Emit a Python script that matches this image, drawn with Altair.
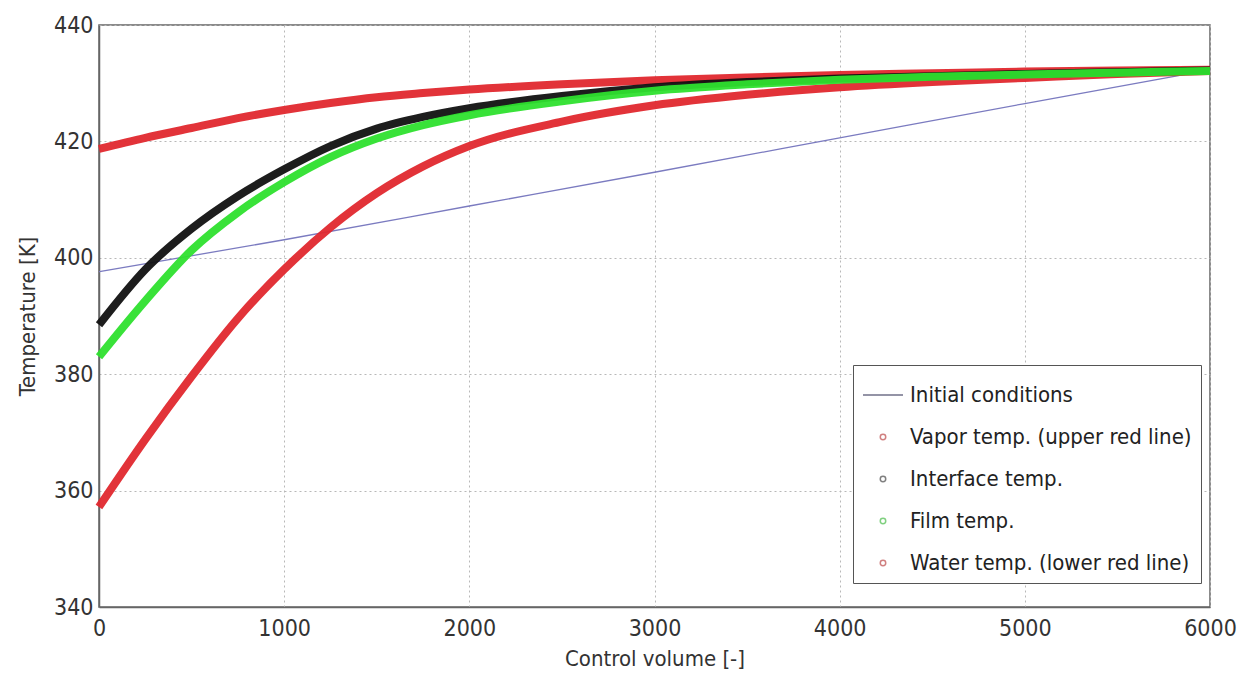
import altair as alt
import pandas as pd

# ---- data ----
cv = [0, 250, 500, 750, 1000, 1250, 1500, 1750, 2000, 2500, 3000, 3500, 4000, 4500, 5000, 5500, 6000]
vapor = [418.7, 420.6, 422.3, 424.0, 425.4, 426.6, 427.6, 428.3, 428.9, 429.8, 430.5, 431.0, 431.4, 431.7, 432.0, 432.2, 432.3]
interface = [388.5, 398.0, 405.0, 410.6, 415.2, 419.2, 422.2, 424.2, 425.7, 427.8, 429.3, 430.2, 430.8, 431.2, 431.6, 431.9, 432.2]
film = [383.0, 392.6, 401.3, 407.8, 413.0, 417.3, 420.5, 422.8, 424.5, 426.9, 428.7, 429.8, 430.6, 431.1, 431.5, 431.8, 432.1]
water = [357.2, 368.8, 379.6, 389.6, 398.0, 405.2, 411.1, 415.7, 419.2, 423.4, 426.2, 428.0, 429.3, 430.2, 430.9, 431.6, 432.1]

cv_init = [0, 1000, 2000, 3000, 4000, 5000, 6000]
initial = [397.6, 403.1, 408.9, 414.7, 420.6, 426.5, 432.3]

names = ["Initial conditions", "Vapor temp. (upper red line)", "Interface temp.",
         "Film temp.", "Water temp. (lower red line)"]
colors = ["#7b7bc0", "#e0282e", "#111111", "#2ee02e", "#e0282e"]
legend_colors = ["#707088", "#d08080", "#808080", "#80d080", "#d08080"]
shapes = ["stroke", "circle", "circle", "circle", "circle"]
sizes = [1600, 30, 30, 30, 30]
x_ticks = [0, 1000, 2000, 3000, 4000, 5000, 6000]
y_ticks = [340, 360, 380, 400, 420, 440]

rows = []
for i, (xv, yv) in enumerate(zip(cv_init, initial)):
    rows.append({"series": names[0], "cv": xv, "T": yv, "o": i})
for name, vals in [(names[1], vapor), (names[4], water), (names[2], interface), (names[3], film)]:
    for i, (xv, yv) in enumerate(zip(cv, vals)):
        rows.append({"series": name, "cv": xv, "T": yv, "o": i})
df = pd.DataFrame(rows)

FONT = "DejaVu Sans Condensed, Liberation Sans Narrow, Roboto, sans-serif"

x = alt.X("cv:Q", scale=alt.Scale(domain=[0, 6000], nice=False),
          axis=alt.Axis(values=x_ticks, title="Control volume [-]", format="d"))
y = alt.Y("T:Q", scale=alt.Scale(domain=[340, 440], nice=False, zero=False),
          axis=alt.Axis(values=y_ticks, title="Temperature [K]", format="d"))
color_scale = alt.Scale(domain=names, range=colors)

base = alt.Chart(df)

init_line = base.transform_filter(alt.datum.series == names[0]).mark_line(
    strokeWidth=1.3, interpolate="monotone"
).encode(x=x, y=y, color=alt.Color("series:N", scale=color_scale, legend=None), order="o:Q")

thick = base.transform_filter(alt.datum.series != names[0]).mark_line(
    strokeWidth=8, interpolate="monotone", opacity=0.95
).encode(x=x, y=y, color=alt.Color("series:N", scale=color_scale, legend=None), order="o:Q")

legend = alt.Legend(
    title=None, orient="none", legendX=754, legendY=340,
    strokeColor="#555", fillColor="white", padding=9, cornerRadius=0,
    labelFont=FONT, labelFontSize=22, labelColor="#222", labelOffset=6,
    symbolStrokeWidth=1.5, symbolOpacity=1, rowPadding=20, labelLimit=400,
)
pts = alt.Chart(pd.DataFrame({"series": names, "cv": [0] * 5, "T": [0] * 5})).mark_point(
    filled=False, strokeWidth=1.5, opacity=0
).encode(
    x=x, y=y,
    stroke=alt.Stroke("series:N", scale=alt.Scale(domain=names, range=legend_colors), legend=legend),
    shape=alt.Shape("series:N", scale=alt.Scale(domain=names, range=shapes), legend=legend),
    size=alt.Size("series:N", scale=alt.Scale(type="ordinal", domain=names, range=sizes), legend=legend),
)

chart = alt.layer(init_line, thick, pts).resolve_legend(
    color="independent", stroke="independent", shape="independent", size="independent"
).properties(
    width=1111, height=582, background="white",
    autosize=alt.AutoSizeParams(type="none"),
    padding={"left": 99, "top": 25, "right": 29, "bottom": 72},
).configure_view(
    stroke="#666", strokeWidth=1.5
).configure_axis(
    grid=True, gridColor="#b8b8b8", gridDash=[2, 3], gridWidth=1,
    domainColor="#666", domainWidth=1.5, ticks=False, labelFlush=False,
    labelFont=FONT, labelFontSize=23, labelColor="#333", labelPadding=6,
    titleFont=FONT, titleFontSize=22, titleColor="#333", titleFontWeight="normal",
).configure_axisX(
    labelPadding=10, titlePadding=8
).configure_axisY(
    titlePadding=14
)

chart.save("out.html", embed_options={"renderer": "svg", "actions": False})
